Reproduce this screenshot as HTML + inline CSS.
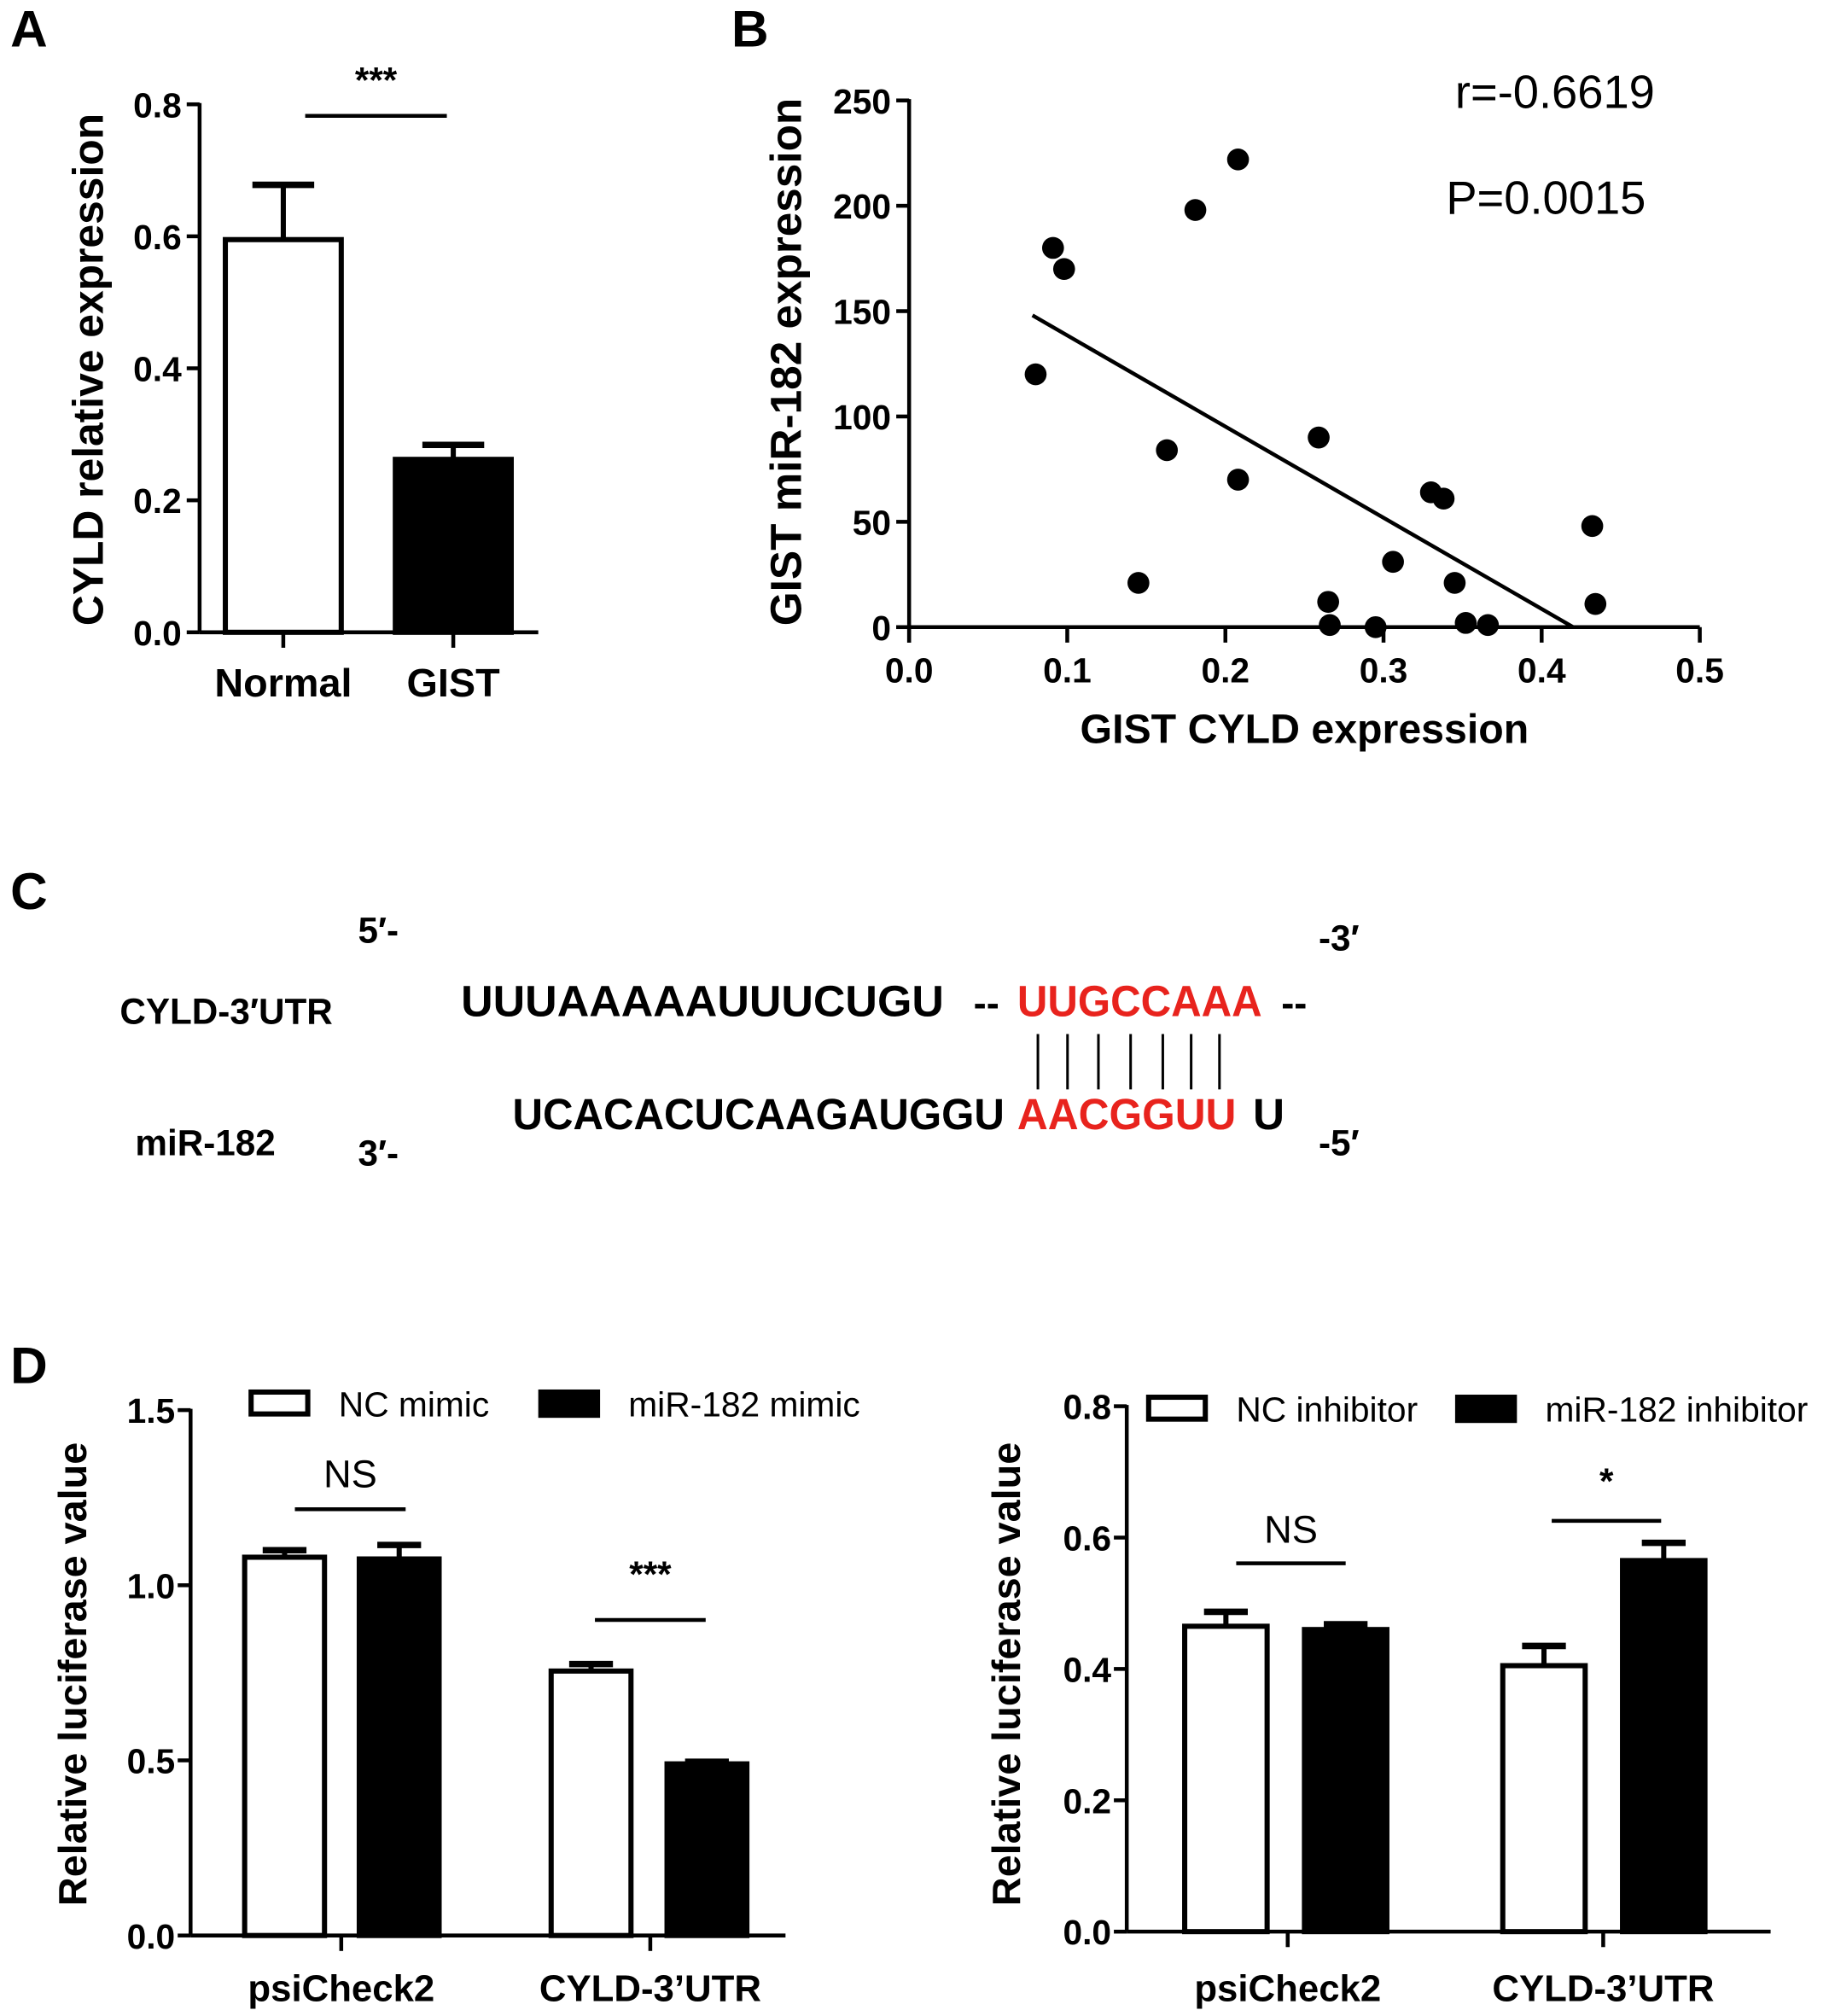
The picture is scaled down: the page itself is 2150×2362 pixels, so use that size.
<!DOCTYPE html>
<html><head><meta charset="utf-8">
<style>
html,body{margin:0;padding:0;background:#fff;}
svg{display:block;font-family:"Liberation Sans",Arial,sans-serif;}
</style></head>
<body>
<svg id="fig" width="2150" height="2362" viewBox="0 0 1425 1565.5" xmlns="http://www.w3.org/2000/svg">
<g id="root"></g>
</svg>
<script>
// ---------- data ----------
const aCategories = ["Normal","GIST"];
const aValues = [0.595, 0.262];
const aErrors = [0.083, 0.022];
const aTicks = [0.0,0.2,0.4,0.6,0.8];

const bX = [0.080,0.091,0.098,0.145,0.163,0.181,0.208,0.208,0.259,0.265,0.266,0.295,0.306,0.330,0.338,0.345,0.352,0.366,0.432,0.434];
const bY = [120,180,170,21,84,198,222,70,90,12,1,0,31,64,61,21,2,1,48,11];
const bFitX = [0.078,0.42];
const bFitY = [148,0];
const bXTicks = [0.0,0.1,0.2,0.3,0.4,0.5];
const bYTicks = [0,50,100,150,200,250];

const d1Categories = ["psiCheck2","CYLD-3\u2019UTR"];
const d1Control = [1.08,0.755];
const d1ControlErr = [0.02,0.02];
const d1Treat = [1.075,0.49];
const d1TreatErr = [0.04,0.006];
const d1Ticks = [0.0,0.5,1.0,1.5];

const d2Categories = ["psiCheck2","CYLD-3\u2019UTR"];
const d2Control = [0.465,0.405];
const d2ControlErr = [0.022,0.03];
const d2Treat = [0.46,0.565];
const d2TreatErr = [0.008,0.027];
const d2Ticks = [0.0,0.2,0.4,0.6,0.8];

// ---------- helpers ----------
const NS="http://www.w3.org/2000/svg";
const root=document.getElementById('root');
function mk(tag,attrs,parent){const e=document.createElementNS(NS,tag);for(const k in attrs)e.setAttribute(k,attrs[k]);(parent||root).appendChild(e);return e;}
function txt(s,attrs,parent){const e=mk('text',attrs,parent);e.textContent=s;return e;}
function line(x1,y1,x2,y2,w,parent){return mk('line',{x1,y1,x2,y2,stroke:'#000','stroke-width':w||3},parent);}

// panel letters
[["A",8,36],["B",568,36],["C",8,706],["D",8,1074]].forEach(p=>{
  const t=txt(p[0],{x:p[1],y:p[2],'font-size':40,'font-weight':'bold'});
  
  
});

// ---------- Panel A ----------
(function(){
  const g=mk('g',{});
  
  
  const x0=155,y0=491,yTop=81,ymax=0.8;
  const ys=v=>y0-(v/ymax)*(y0-yTop);
  line(x0,ys(0.8)-1,x0,y0,3,g);
  line(x0,y0,418,y0,3,g);
  aTicks.forEach(t=>{line(x0-10,ys(t),x0,ys(t),3,g);
    const l=txt(t.toFixed(1),{x:x0-14,y:ys(t)+10,'font-size':27,'font-weight':'bold','text-anchor':'end'},g);
    
    
  });
  const centers=[220,352];
  aCategories.forEach((c,i)=>{
    const cx=centers[i];
    const r=mk('rect',{x:cx-45,y:ys(aValues[i]),width:90,height:y0-ys(aValues[i]),fill:i?'#000':'#fff',stroke:'#000','stroke-width':4},g);
    
    
    const ey=ys(aValues[i]+aErrors[i]);
    line(cx,ys(aValues[i]),cx,ey,4,g);line(cx-24,ey,cx+24,ey,5,g);
    line(cx,y0,cx,y0+12,3,g);
    const l=txt(c,{x:cx,y:541,'font-size':31,'font-weight':'bold','text-anchor':'middle'},g);
    
    
  });
  line(237,90,347,90,3,g);
  const s=txt('***',{x:292,y:72,'font-size':28,'font-weight':'bold','text-anchor':'middle'},g);
  
  
  const yt=txt('CYLD relative expression',{x:0,y:0,'font-size':33,'font-weight':'bold','text-anchor':'middle',transform:'translate(80,287) rotate(-90)'},g);
  
  
})();

// ---------- Panel B ----------
(function(){
  const g=mk('g',{});
  
  
  const x0=706,x1=1320,y0=487,y1=78;
  const xs=v=>x0+(v/0.5)*(x1-x0);
  const ys=v=>y0-(v/250)*(y0-y1);
  line(x0,y1-1,x0,y0+12,3,g);
  line(x0-10,y0,x1,y0,3,g);
  bYTicks.forEach(t=>{line(x0-10,ys(t),x0,ys(t),3,g);
    const l=txt(String(t),{x:x0-14,y:ys(t)+10,'font-size':27,'font-weight':'bold','text-anchor':'end'},g);
    
    
  });
  bXTicks.forEach(t=>{line(xs(t),y0,xs(t),y0+12,3,g);
    const l=txt(t.toFixed(1),{x:xs(t),y:530,'font-size':27,'font-weight':'bold','text-anchor':'middle'},g);
    
    
  });
  const fl=mk('line',{x1:xs(bFitX[0]),y1:ys(bFitY[0]),x2:xs(bFitX[1]),y2:ys(bFitY[1]),stroke:'#000','stroke-width':3},g);
  
  
  bX.forEach((v,i)=>{
    const c=mk('circle',{cx:xs(v),cy:ys(bY[i]),r:8.5,fill:'#000'},g);
    
    
  });
  const r=txt('r=-0.6619',{x:1130,y:84,'font-size':36},g);
  
  
  const p=txt('P=0.0015',{x:1123,y:166,'font-size':36},g);
  
  
  const xt=txt('GIST CYLD expression',{x:1013,y:577,'font-size':32,'font-weight':'bold','text-anchor':'middle'},g);
  
  
  const yt=txt('GIST miR-182 expression',{x:0,y:0,'font-size':34,'font-weight':'bold','text-anchor':'middle',transform:'translate(622,281) rotate(-90)'},g);
  
  
})();

// ---------- Panel C ----------
(function(){
  const g=mk('g',{'font-weight':'bold'});
  
  
  const items=[
    ['5\u2032-',278,732,28,'#000',null,'five-prime-label'],
    ['-3\u2032',1024,738,28,'#000',null,'three-prime-end-label'],
    ['CYLD-3\u2032UTR',93,795,28,'#000',null,'cyld-utr-label'],
    ['UUUAAAAAUUUCUGU',358,789,34,'#000',375,'cyld-sequence'],
    ['--',756,789,30,'#000',null,'dash-left'],
    ['UUGCCAAA',790,789,34,'#e8231d',190,'cyld-seed-sequence'],
    ['--',995,789,30,'#000',null,'dash-right'],
    ['UCACACUCAAGAUGGU',398,877,34,'#000',382,'mir-sequence'],
    ['AACGGUU',790,877,34,'#e8231d',170,'mir-seed-sequence'],
    ['U',973,877,34,'#000',null,'mir-overhang'],
    ['miR-182',105,897,28,'#000',null,'mir-182-label'],
    ['3\u2032-',278,905,28,'#000',null,'three-prime-label'],
    ['-5\u2032',1024,897,28,'#000',null,'five-prime-end-label']
  ];
  items.forEach(it=>{
    const a={x:it[1],y:it[2],'font-size':it[3],fill:it[4]};
    if(it[5]){a.textLength=it[5];a.lengthAdjust='spacingAndGlyphs';}
    const t=txt(it[0],a,g);
    
    
  });
  [806,829,853,878,903,925,947].forEach(x=>{
    const l=mk('line',{x1:x,y1:803,x2:x,y2:846,stroke:'#000','stroke-width':2},g);
    
    
  });
})();

// ---------- Panel D ----------
function barPanel(cfg){
  const g=mk('g',{});
  
  
  const {x0,x1,y0,yTop,ymax}=cfg;
  const ys=v=>y0-(v/ymax)*(y0-yTop);
  line(x0,yTop-1,x0,y0,3,g);
  line(x0,y0,x1,y0,3,g);
  cfg.ticks.forEach(t=>{line(x0-10,ys(t),x0,ys(t),3,g);
    const l=txt(t.toFixed(1),{x:x0-12,y:ys(t)+10,'font-size':27,'font-weight':'bold','text-anchor':'end'},g);
    
    
  });
  cfg.cats.forEach((c,i)=>{
    const pairs=[[cfg.ctrl[i],cfg.ctrlErr[i],cfg.barX[i][0],'#fff'],[cfg.treat[i],cfg.treatErr[i],cfg.barX[i][1],'#000']];
    pairs.forEach((p,j)=>{
      const r=mk('rect',{x:p[2],y:ys(p[0]),width:cfg.bw,height:y0-ys(p[0]),fill:p[3],stroke:'#000','stroke-width':4},g);
      
      
      const cx=p[2]+cfg.bw/2,ey=ys(p[0]+p[1]);
      line(cx,ys(p[0]),cx,ey,4,g);line(cx-17,ey,cx+17,ey,5,g);
    });
    const tc=cfg.tickX[i];
    line(tc,y0,tc,y0+12,3,g);
    const l=txt(c,{x:tc,y:1554,'font-size':29,'font-weight':'bold','text-anchor':'middle'},g);
    
    
  });
  cfg.sig.forEach(s=>{
    line(s[0],s[1],s[2],s[1],3,g);
    const t=txt(s[3],{x:(s[0]+s[2])/2,y:s[4],'font-size':s[3]==='NS'?30:28,'text-anchor':'middle','font-weight':s[3]==='NS'?'normal':'bold'},g);
    
    
  });
  const lg=cfg.legend;
  const b1=mk('rect',{x:lg[0],y:lg[1],width:44,height:17,fill:'#fff',stroke:'#000','stroke-width':4},g);
  
  
  const t1=txt(lg[2],{x:lg[3],y:lg[1]+19,'font-size':27},g);
  
  
  const b2=mk('rect',{x:lg[4],y:lg[1]-2,width:48,height:22,fill:'#000'},g);
  
  
  const t2=txt(lg[5],{x:lg[6],y:lg[1]+19,'font-size':27},g);
  
  
  const yt=txt('Relative luciferase value',{x:0,y:0,'font-size':31,'font-weight':'bold','text-anchor':'middle',transform:'translate('+cfg.ytX+',1300) rotate(-90)'},g);
  
  
}
barPanel({name:'panel-d-mimic-chart',x0:148,x1:610,y0:1503,yTop:1095,ymax:1.5,ticks:d1Ticks,cats:d1Categories,
  ctrl:d1Control,ctrlErr:d1ControlErr,treat:d1Treat,treatErr:d1TreatErr,bw:62,
  barX:[[190,279],[428,518]],tickX:[265,505],
  sig:[[229,1172,315,'NS',1155],[462,1258,548,'***',1232]],
  legend:[195,1081,'NC mimic',263,418,'miR-182 mimic',488],ytX:67});
barPanel({name:'panel-d-inhibitor-chart',x0:875,x1:1375,y0:1500,yTop:1092,ymax:0.8,ticks:d2Ticks,cats:d2Categories,
  ctrl:d2Control,ctrlErr:d2ControlErr,treat:d2Treat,treatErr:d2TreatErr,bw:64,
  barX:[[920,1013],[1167,1260]],tickX:[1000,1245],
  sig:[[960,1214,1045,'NS',1198],[1205,1181,1290,'*',1160]],
  legend:[892,1085,'NC inhibitor',960,1130,'miR-182 inhibitor',1200],ytX:792});
</script>
</body></html>
